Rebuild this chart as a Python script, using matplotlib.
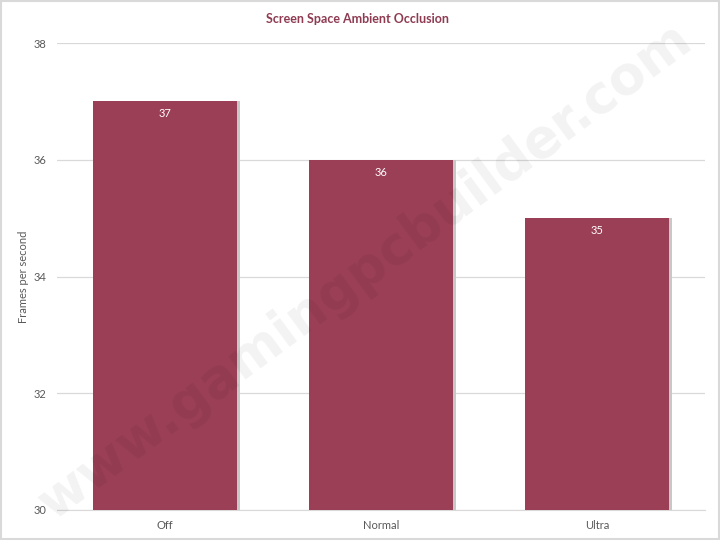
import numpy as np
import matplotlib
matplotlib.use('Agg')
from matplotlib import pyplot as plt

# data
categories = ['Off', 'Normal', 'Ultra']
fps = [37, 36, 35]
yticks = [30, 32, 34, 36, 38]

bar_color = '#9b3f56'
text_gray = '#595959'
plt.rcParams['font.family'] = ['Lato', 'DejaVu Sans']

fig = plt.figure(figsize=(7.2, 5.4), dpi=100)
fig.patch.set_facecolor('white')
ax = fig.add_axes([57 / 720, 30 / 540, 648 / 720, 467 / 540])

x = np.arange(len(categories))
# faint shadow to the right of each bar
ax.bar(x + 0.012, fps, width=0.667, color='#c8c8c8', zorder=2)
bars = ax.bar(x, fps, width=0.667, color=bar_color, zorder=3)

for xi, v in zip(x, fps):
    ax.text(xi, v - 0.12, str(v), ha='center', va='top', color='white',
            fontsize=8, zorder=4)

ax.set_xlim(-0.5, len(categories) - 0.5)
ax.set_ylim(30, 38)
ax.set_yticks(yticks)
ax.set_xticks(x)
ax.set_xticklabels(categories)
ax.tick_params(axis='both', length=0, labelsize=8, colors=text_gray)
ax.tick_params(axis='y', pad=7.5)
ax.tick_params(axis='x', pad=7)
ax.grid(axis='y', color='#d9d9d9', lw=0.9, zorder=1)
ax.set_axisbelow(True)
for s in ['top', 'right', 'left']:
    ax.spines[s].set_visible(False)
ax.spines['bottom'].set_color('#d9d9d9')

ax.set_ylabel('Frames per second', fontsize=8, color=text_gray)
ax.yaxis.set_label_coords((29 - 57) / 648, 0.5)
fig.text(358 / 720, 1 - 19 / 540, 'Screen Space Ambient Occlusion',
         ha='center', va='center', fontsize=9, fontweight='bold',
         color='#8e3b52')

# watermark, faint overlay across the whole figure
fig.text(365 / 720, 1 - 272 / 540, 'www.gamingpcbuilder.com', rotation=36.5,
         ha='center', va='center', fontsize=38, fontweight='bold',
         color='#000000', alpha=0.05, family='DejaVu Sans', zorder=10)

# light border around the figure
fig.add_artist(plt.Rectangle((0.002, 0.002), 0.996, 0.996, transform=fig.transFigure,
                             fill=False, edgecolor='#d9d9d9', lw=1.5))

fig.savefig('out.png', dpi=100)
